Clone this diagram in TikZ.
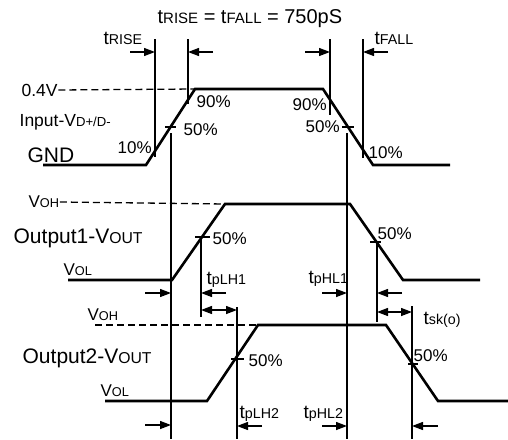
\documentclass[tikz,border=0pt]{standalone}
\usepackage{fontspec}
\setmainfont{Liberation Sans}
\usetikzlibrary{arrows.meta}
\newcommand\sm[1]{\scalebox{0.75}{#1}}
\newcommand\fsz[1]{\fontsize{#1}{#1}\selectfont}

\begin{document}
\begin{tikzpicture}[x=1pt, y=-1pt, line width=1.3pt,
  wave/.style={line width=2.6pt},
  guide/.style={dash pattern=on 7pt off 4pt},
  tip/.style={-{Triangle[length=11pt,width=8pt]}},
  both/.style={{Triangle[length=11pt,width=8pt]}-{Triangle[length=11pt,width=8pt]}},
  lbl/.style={anchor=west, inner sep=0pt, text depth=0pt, font=\fsz{17}},
  tlbl/.style={lbl, font=\fsz{19}},
  big/.style={lbl, font=\fsz{21}}]
  \useasboundingbox (0,0) rectangle (508,439);

  % input
  \node[tlbl, font=\fsz{20}] (title) at (157,17) {t\sm{RISE} = t\sm{FALL} = 750pS};
  \node[tlbl] (trise) at (103,38) {t\sm{RISE}};
  \node[tlbl] (tfall) at (374,38) {t\sm{FALL}};
  \node[lbl, font=\fsz{17.5}] (in04) at (21,90) {0.4V};
  \node[lbl, font=\fsz{17.5}] (vin) at (19,120) {Input-V\sm{D+/D-}};
  \node[big] (gnd) at (27,155) {GND};
  \node[lbl] (r10) at (117,148) {10\%};
  \node[lbl] (r90) at (196,102) {90\%};
  \node[lbl] (r50) at (183,130) {50\%};
  \node[lbl] (f90) at (292,105) {90\%};
  \node[lbl] (f50) at (305,127) {50\%};
  \node[lbl] (f10) at (368,153) {10\%};

  \draw[wave] (43,165) -- (146,165) -- (195,89) -- (323,89) -- (373,165) -- (450,165);
  \draw[guide] (in04.east) -- (195,89);
  \draw (155,39) -- (155,157);
  \draw (188,39) -- (188,104);
  \draw (330,39) -- (330,115);
  \draw (363,39) -- (363,158);
  \draw[tip] (130,52) -- (155,52);
  \draw[tip] (213,52) -- (188,52);
  \draw[tip] (305,52) -- (330,52);
  \draw[tip] (388,52) -- (363,52);
  \draw (165,127) -- (176,127);
  \draw (342,127) -- (354,127);
  \draw (171,133) -- (171,439);
  \draw (347,133) -- (347,439);

  % output 1
  \node[lbl] (voh1) at (28,202) {V\sm{OH}};
  \node[big] (out1) at (13,236) {Output1-V\sm{OUT}};
  \node[lbl] (vol1) at (63,270) {V\sm{OL}};
  \node[lbl] (o1r50) at (212,239) {50\%};
  \node[lbl] (o1f50) at (377,234) {50\%};
  \node[tlbl] (tplh1) at (206,278) {t\sm{pLH1}};
  \node[tlbl] (tphl1) at (308,277) {t\sm{pHL1}};
  \node[tlbl] (tsk) at (423,318) {t\sm{sk(o)}};

  \draw[wave] (68,280) -- (172,280) -- (225,204) -- (350,204) -- (403,280) -- (480,280);
  \draw[guide] (voh1.east) -- (225,204);
  \draw (195,237) -- (210,237);
  \draw (370,242) -- (381,242);
  \draw (201,237) -- (201,317);
  \draw (377,242) -- (377,322);
  \draw (237,307) -- (237,439);
  \draw (412,306) -- (412,439);
  \draw[tip] (145,293) -- (171,293);
  \draw[tip] (226,293) -- (201,293);
  \draw[tip] (322,293) -- (347,293);
  \draw[tip] (402,293) -- (377,293);
  \draw[both] (201,310) -- (237,310);
  \draw[both] (377,312) -- (412,312);

  % output 2
  \node[lbl] (voh2) at (87,315) {V\sm{OH}};
  \node[big] (out2) at (22,356) {Output2-V\sm{OUT}};
  \node[lbl] (vol2) at (100,391) {V\sm{OL}};
  \node[lbl] (o2r50) at (248,361) {50\%};
  \node[lbl] (o2f50) at (413,356) {50\%};
  \node[tlbl] (tplh2) at (239,412) {t\sm{pLH2}};
  \node[tlbl] (tphl2) at (303,412) {t\sm{pHL2}};

  \draw[wave] (105,401) -- (207,401) -- (258,325) -- (386,325) -- (438,401) -- (508,401);
  \draw[guide] (95,325) -- (258,325);
  \draw (231,359) -- (244,359);
  \draw (408,364) -- (418,364);
  \draw[tip] (145,425) -- (171,425);
  \draw[tip] (262,426) -- (237,426);
  \draw[tip] (322,426) -- (347,426);
  \draw[tip] (438,426) -- (412,426);
\end{tikzpicture}
\end{document}
